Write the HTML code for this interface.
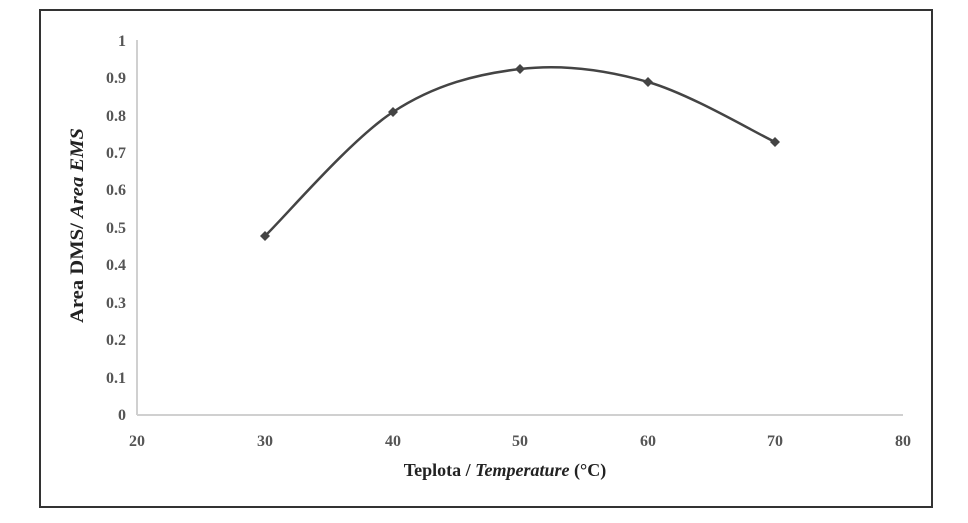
<!DOCTYPE html>
<html><head><style>
html,body{margin:0;padding:0;background:#fff;}
</style></head><body>
<svg width="968" height="518" xmlns="http://www.w3.org/2000/svg" font-family="Liberation Serif, serif">
<rect x="0" y="0" width="968" height="518" fill="#fff"/>
<rect x="40" y="10" width="892" height="497" fill="none" stroke="#333" stroke-width="2"/>
<line x1="137" y1="40" x2="137" y2="415" stroke="#d0d0d0" stroke-width="2"/>
<line x1="137" y1="415" x2="903" y2="415" stroke="#d0d0d0" stroke-width="2"/>
<g font-size="16" font-weight="bold" fill="#555" text-anchor="end">
<text x="126" y="420">0</text><text x="126" y="383">0.1</text><text x="126" y="345">0.2</text>
<text x="126" y="308">0.3</text><text x="126" y="270">0.4</text><text x="126" y="233">0.5</text>
<text x="126" y="195">0.6</text><text x="126" y="158">0.7</text><text x="126" y="121">0.8</text>
<text x="126" y="83">0.9</text><text x="126" y="46">1</text>
</g>
<g font-size="16" font-weight="bold" fill="#555" text-anchor="middle">
<text x="137" y="446">20</text><text x="265" y="446">30</text><text x="393" y="446">40</text>
<text x="520" y="446">50</text><text x="648" y="446">60</text><text x="775" y="446">70</text><text x="903" y="446">80</text>
</g>
<text x="505" y="476" font-size="18" font-weight="bold" fill="#222" text-anchor="middle">Teplota / <tspan font-style="italic">Temperature</tspan> (°C)</text>
<text transform="translate(83,323) rotate(-90)" font-size="19" font-weight="bold" fill="#222" textLength="195" lengthAdjust="spacingAndGlyphs">Area DMS/ <tspan font-style="italic">Area EMS</tspan></text>
<path d="M265,236 C286.3,215.3 350.5,139.8 393,112 C435.5,84.2 477.5,74 520,69 C562.5,64 605.5,69.8 648,82 C690.5,94.2 753.8,132 775,142" fill="none" stroke="#444" stroke-width="2.5"/>
<g fill="#444">
<path d="M265,231 l5,5 -5,5 -5,-5z"/><path d="M393,107 l5,5 -5,5 -5,-5z"/>
<path d="M520,64 l5,5 -5,5 -5,-5z"/><path d="M648,77 l5,5 -5,5 -5,-5z"/>
<path d="M775,137 l5,5 -5,5 -5,-5z"/>
</g>
</svg>
</body></html>
